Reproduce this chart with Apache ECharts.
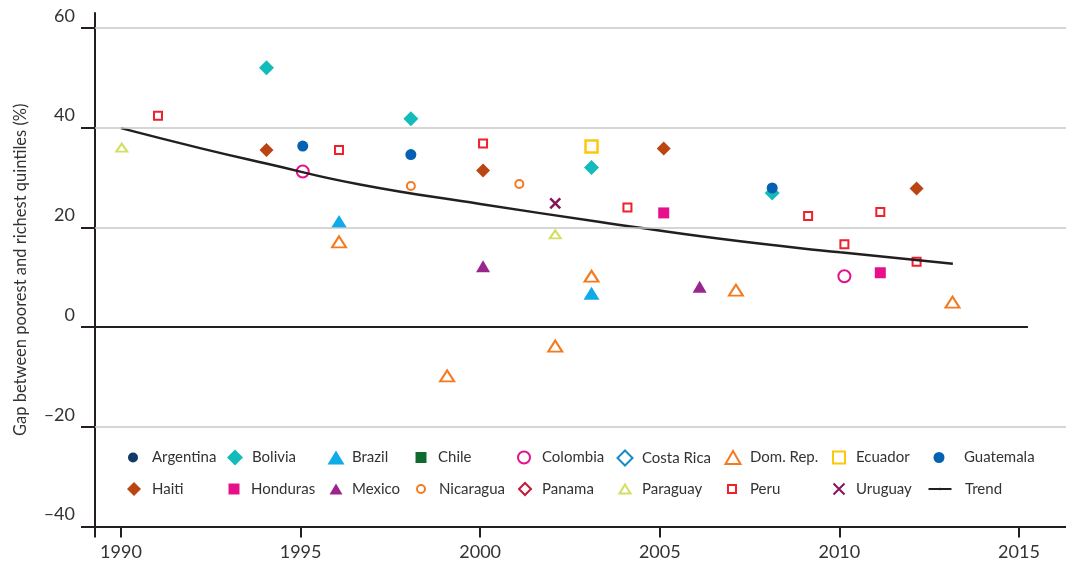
<!DOCTYPE html>
<html>
<head>
<meta charset="utf-8">
<script src="https://cdn.jsdelivr.net/npm/echarts@6/dist/echarts.min.js"></script>
<style>
html,body{margin:0;padding:0;background:#fff;}
#chart{width:1066px;height:565px;}
</style>
</head>
<body>
<div id="chart"></div>
<script>
// ---- data ----
const xTicks = [1990, 1995, 2000, 2005, 2010, 2015];
const yTicks = [-40, -20, 0, 20, 40, 60];
const argentina = [];
const bolivia = [[1994.05, 52.0], [1998.07, 41.8], [2003.10, 32.0], [2008.13, 26.9]];
const brazil = [[1996.07, 21.2], [2003.10, 6.8]];
const chile = [];
const colombia = [[1995.06, 31.2], [2010.14, 10.2]];
const costaRica = [];
const domRep = [[1996.07, 17.1], [1999.08, -9.8], [2002.09, -3.8], [2003.10, 10.2], [2007.12, 7.4], [2013.15, 5.0]];
const ecuador = [[2003.10, 36.2]];
const guatemala = [[1995.06, 36.3], [1998.07, 34.6], [2008.13, 27.9]];
const haiti = [[1994.05, 35.5], [2000.08, 31.4], [2005.11, 35.8], [2012.15, 27.8]];
const honduras = [[2005.11, 22.9], [2011.14, 10.9]];
const mexico = [[2000.08, 12.2], [2006.11, 8.1]];
const nicaragua = [[1998.07, 28.3], [2001.09, 28.7]];
const panama = [];
const paraguay = [[1990.02, 36.0], [2002.09, 18.6]];
const peru = [[1991.03, 42.4], [1996.07, 35.5], [2000.08, 36.8], [2004.10, 24.0], [2009.13, 22.3], [2010.14, 16.6], [2011.14, 23.1], [2012.15, 13.1]];
const uruguay = [[2002.09, 24.8]];
const trend = [[1990.0, 39.9], [1992.2, 35.9], [1994.04, 32.8], [1996.65, 28.6], [2000.0, 24.7], [2003.34, 21.1], [2006.68, 17.7], [2010.02, 15.0], [2013.16, 12.7]];
const gridValues = [60, 40, 20, -20];
const zeroValue = 0;
const zeroLineEnd = 2015.25;

// ---- axis extents ----
const xMin = 1989.276, xMax = 2016.31;
const yMin = -40, yMax = 63;

const FONT = 'Lato';
const TXT = '#333333';
const AX = '#231f20';

function filled(color) { return { color: color, opacity: 1 }; }
function open(color, w) { return { color: '#ffffff', borderColor: color, borderWidth: w || 2, opacity: 1 }; }

const seriesSpec = [
  { name: 'Argentina', data: argentina, symbol: 'circle', size: 10, style: filled('#123a68') },
  { name: 'Bolivia', data: bolivia, symbol: 'diamond', size: 15, style: filled('#14bbbb') },
  { name: 'Brazil', data: brazil, symbol: 'triangle', size: [16, 13], style: filled('#0eaaea') },
  { name: 'Chile', data: chile, symbol: 'rect', size: 11, style: filled('#0f6a2c') },
  { name: 'Colombia', data: colombia, symbol: 'circle', size: 12, style: open('#e5108a') },
  { name: 'Costa Rica', data: costaRica, symbol: 'diamond', size: 14, style: open('#138dc6') },
  { name: 'Dom. Rep.', data: domRep, symbol: 'triangle', size: [14, 11], style: open('#f47a1f') },
  { name: 'Ecuador', data: ecuador, symbol: 'rect', size: 12, style: open('#fdc70c', 2.5) },
  { name: 'Guatemala', data: guatemala, symbol: 'circle', size: 11, style: filled('#0761b3') },
  { name: 'Haiti', data: haiti, symbol: 'diamond', size: 14, style: filled('#bb4512') },
  { name: 'Honduras', data: honduras, symbol: 'rect', size: 11, style: filled('#e8108a') },
  { name: 'Mexico', data: mexico, symbol: 'triangle', size: [14, 12], style: filled('#99258d') },
  { name: 'Nicaragua', data: nicaragua, symbol: 'circle', size: 8, style: open('#f47a1f') },
  { name: 'Panama', data: panama, symbol: 'diamond', size: 12, style: open('#c21b3a') },
  { name: 'Paraguay', data: paraguay, symbol: 'triangle', size: [11, 8], style: open('#d2df62') },
  { name: 'Peru', data: peru, symbol: 'rect', size: 8, style: open('#ee212d') },
  { name: 'Uruguay', data: uruguay, symbol: 'path://M0,0L10,10M10,0L0,10', size: 10, style: { color: 'transparent', borderColor: '#87155a', borderWidth: 2.5, opacity: 1 } }
];

// legend layout: name, icon centre x, row, icon w, icon h, text start x
const legendLayout = [
  ['Argentina', 133, 0, 10, 10, 152],
  ['Bolivia', 235, 0, 16, 16, 252],
  ['Brazil', 336, 0, 17, 14, 352],
  ['Chile', 421, 0, 11, 11, 438],
  ['Colombia', 523, 0, 12, 12, 541],
  ['Costa Rica', 624, 0, 15, 15, 641],
  ['Dom. Rep.', 732, 0, 15, 13, 749],
  ['Ecuador', 838, 0, 12, 12, 855],
  ['Guatemala', 939, 0, 11, 11, 964],
  ['Haiti', 134, 1, 14, 14, 152],
  ['Honduras', 234, 1, 11, 11, 251],
  ['Mexico', 336, 1, 13, 11, 352],
  ['Nicaragua', 420, 1, 8, 8, 438],
  ['Panama', 524, 1, 12, 12, 541],
  ['Paraguay', 624, 1, 11, 9, 641],
  ['Peru', 731, 1, 8, 8, 749],
  ['Uruguay', 838, 1, 11, 11, 855],
  ['Trend', 939, 1, 23, 3, 964]
];
const rowCenters = [457.5, 489];

const legends = legendLayout.map(function (l) {
  const w = l[3], h = l[4];
  const boxH = Math.max(h, 16);
  return {
    data: [l[0]],
    left: l[1] - w / 2,
    top: rowCenters[l[2]] - boxH / 2,
    padding: 0,
    itemWidth: w,
    itemHeight: h,
    selectedMode: false,
    textStyle: {
      fontFamily: FONT, fontSize: 15, color: TXT, lineHeight: 16,
      padding: [0, 0, 0, Math.max(0, l[5] - (l[1] + w / 2) - 5)]
    }
  };
});

const series = [];
series.push({
  name: '_grid', type: 'scatter', data: [], silent: true, z: 1,
  markLine: {
    silent: true, symbol: 'none', label: { show: false }, animation: false,
    lineStyle: { color: '#c8c8c8', width: 1.5, type: 'solid' },
    data: gridValues.map(function (v) { return { yAxis: v }; })
      .concat([[{ coord: [xMin, zeroValue], lineStyle: { color: AX, width: 2 } }, { coord: [zeroLineEnd, zeroValue] }]])
  }
});
seriesSpec.forEach(function (s) {
  series.push({
    name: s.name, type: 'scatter', data: s.data, symbol: s.symbol, symbolSize: s.size,
    itemStyle: s.style, z: 2, emphasis: { disabled: true }
  });
});
series.push({
  name: 'Trend', type: 'line', data: trend, symbol: 'none', smooth: true, z: 3,
  itemStyle: { color: AX },
  lineStyle: { color: AX, width: 2.5 }
});

const chart = echarts.init(document.getElementById('chart'), null, { renderer: 'canvas' });
chart.setOption({
  animation: false,
  backgroundColor: '#ffffff',
  textStyle: { fontFamily: FONT },
  grid: { left: 95, right: 0, top: 13, bottom: 38.5, containLabel: false },
  legend: legends,
  xAxis: {
    type: 'value', min: xMin, max: xMax,
    axisLine: { show: true, onZero: false, lineStyle: { color: AX, width: 2 } },
    axisTick: { show: true, customValues: [xMin].concat(xTicks), length: 11, lineStyle: { color: AX, width: 2 } },
    axisLabel: { customValues: xTicks, margin: 17, fontSize: 18, color: TXT, fontFamily: FONT,
      formatter: function (v) { return String(v); } },
    splitLine: { show: false }
  },
  yAxis: {
    type: 'value', min: yMin, max: yMax,
    name: 'Gap between poorest and richest quintiles (%)',
    nameLocation: 'middle', nameGap: 66,
    nameTextStyle: { fontSize: 16.5, color: TXT, fontFamily: FONT },
    axisLine: { show: true, onZero: false, lineStyle: { color: AX, width: 2 } },
    axisTick: { show: true, customValues: yTicks, length: 14, lineStyle: { color: AX, width: 2 } },
    axisLabel: { customValues: yTicks, margin: 20, fontSize: 18, color: TXT, fontFamily: FONT,
      verticalAlign: 'bottom', lineHeight: 18, padding: [0, 0, 3, 0],
      formatter: function (v) { return v < 0 ? '\u2013' + Math.abs(v) : String(v); } },
    splitLine: { show: false }
  },
  series: series
});
</script>
</body>
</html>
